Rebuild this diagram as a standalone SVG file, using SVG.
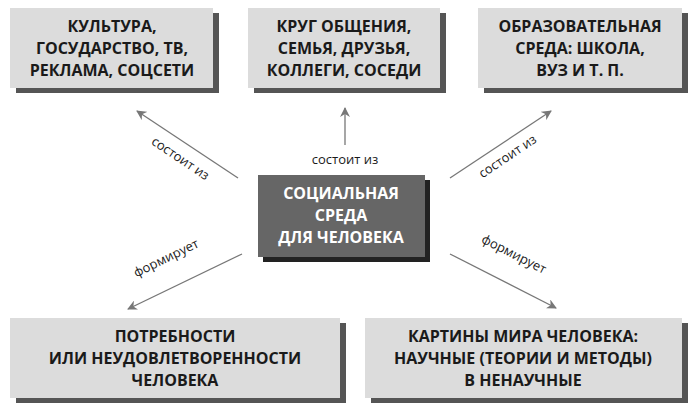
<svg xmlns="http://www.w3.org/2000/svg" width="693" height="409" viewBox="0 0 693 409">
<style>
.b{fill:#dcdcdc}.s{fill:#555}
.t{font-family:"Open Sans","Liberation Sans",sans-serif;font-weight:bold;font-size:16px;fill:#1a1a1a;text-anchor:middle}
.w{fill:#fff}
.l{font-family:"Open Sans","Liberation Sans",sans-serif;font-size:13px;fill:#1a1a1a;text-anchor:middle}
.a{stroke:#777;stroke-width:1.3;fill:none;marker-end:url(#m)}
</style>
<defs><marker id="m" viewBox="0 0 10 10" refX="9" refY="5" markerWidth="10" markerHeight="10" markerUnits="userSpaceOnUse" orient="auto"><path d="M0,0L10,5L0,10L3,5z" fill="#777"/></marker></defs>
<rect width="693" height="409" fill="#fff"/>
<g id="n1"><rect class="s" x="16" y="13" width="203" height="80"/><rect class="b" x="10" y="8" width="203" height="80"/><text class="t" x="112" y="32">КУЛЬТУРА,</text><text class="t" x="112" y="54">ГОСУДАРСТВО, ТВ,</text><text class="t" x="112" y="76">РЕКЛАМА, СОЦСЕТИ</text></g>
<g id="n2"><rect class="s" x="254" y="13" width="192" height="80"/><rect class="b" x="248" y="8" width="192" height="80"/><text class="t" x="344" y="32">КРУГ ОБЩЕНИЯ,</text><text class="t" x="344" y="54">СЕМЬЯ, ДРУЗЬЯ,</text><text class="t" x="344" y="76">КОЛЛЕГИ, СОСЕДИ</text></g>
<g id="n3"><rect class="s" x="484" y="13" width="204" height="80"/><rect class="b" x="478" y="8" width="204" height="80"/><text class="t" x="580" y="32">ОБРАЗОВАТЕЛЬНАЯ</text><text class="t" x="580" y="54">СРЕДА: ШКОЛА,</text><text class="t" x="580" y="76">ВУЗ И Т. П.</text></g>
<g id="n4"><rect fill="#222" x="263" y="180" width="167" height="82"/><rect fill="#666" x="258" y="175" width="167" height="82"/><text class="t w" x="341" y="199">СОЦИАЛЬНАЯ</text><text class="t w" x="341" y="221">СРЕДА</text><text class="t w" x="341" y="243">ДЛЯ ЧЕЛОВЕКА</text></g>
<g id="n5"><rect class="s" x="16" y="323" width="330" height="80"/><rect class="b" x="10" y="318" width="330" height="80"/><text class="t" x="175" y="342">ПОТРЕБНОСТИ</text><text class="t" x="175" y="364">ИЛИ НЕУДОВЛЕТВОРЕННОСТИ</text><text class="t" x="175" y="386">ЧЕЛОВЕКА</text></g>
<g id="n6"><rect class="s" x="371" y="323" width="317" height="80"/><rect class="b" x="365" y="318" width="317" height="80"/><text class="t" x="523" y="342">КАРТИНЫ МИРА ЧЕЛОВЕКА:</text><text class="t" x="523" y="364">НАУЧНЫЕ (ТЕОРИИ И МЕТОДЫ)</text><text class="t" x="523" y="386">В НЕНАУЧНЫЕ</text></g>
<g id="edges">
<path class="a" d="M238,178L137,111"/>
<path class="a" d="M345,145L345,108"/>
<path class="a" d="M450,178L551,111"/>
<path class="a" d="M242,254L128,309"/>
<path class="a" d="M450,254L556,308"/>
<text class="l" transform="translate(178,162) rotate(34)">состоит из</text>
<text class="l" x="345" y="164">состоит из</text>
<text class="l" transform="translate(510,160) rotate(-34)">состоит из</text>
<text class="l" transform="translate(168,262) rotate(-26)">формирует</text>
<text class="l" transform="translate(512,258) rotate(27)">формирует</text>
</g>
</svg>
